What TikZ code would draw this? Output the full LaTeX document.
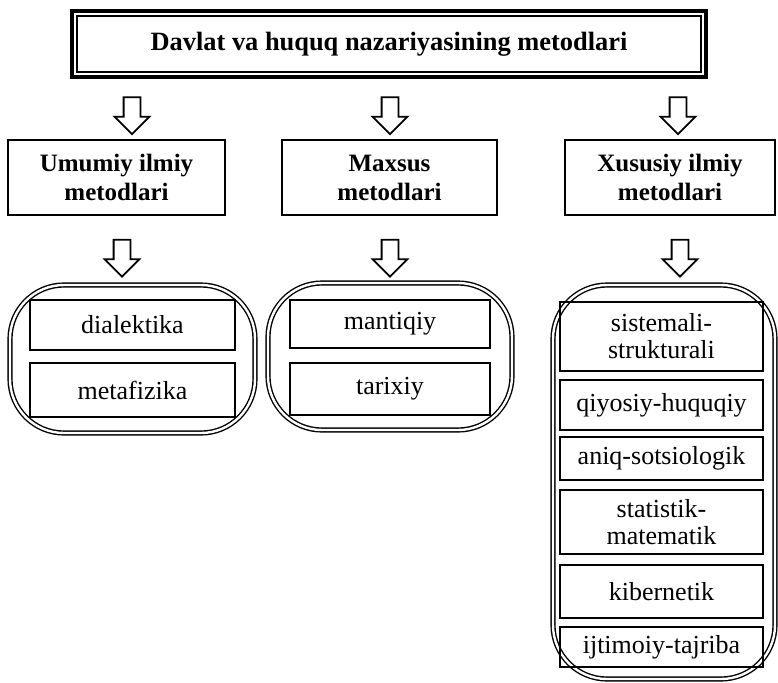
\documentclass[tikz,border=0pt]{standalone}
\usepackage{fontspec}
\setmainfont{Liberation Serif}
\usetikzlibrary{positioning,shapes.arrows}

\begin{document}
\begin{tikzpicture}[x=0.5pt,y=-0.5pt]
\tikzset{
     headbox/.style={draw, line width=1pt, align=center, inner sep=0pt,
                     font=\fontsize{12.5}{14.5}\selectfont\bfseries, minimum height=37.5pt},
     methodbox/.style={draw, line width=0.7pt, align=center, inner sep=0pt,
                     font=\fontsize{13}{13.5}\selectfont},
     groupbox/.style={draw, double, line width=0.7pt, double distance=1.2pt, rounded corners=27pt},
     downarrow/.style={draw, single arrow, shape border rotate=270, line width=0.9pt,
                     inner xsep=3.75pt, inner ysep=0pt, minimum height=18.5pt,
                     single arrow head extend=4.5pt}}

\useasboundingbox (0,0) rectangle (778,682);

% The title
\node (title) [draw, line width=2pt, minimum width=317pt, minimum height=33pt,
               font=\fontsize{13.2}{15}\selectfont\bfseries] at (389,44) {Davlat va huquq nazariyasining metodlari};
\draw [line width=0.7pt] ([shift={(3.5pt,-3.5pt)}]title.north west) rectangle ([shift={(-3.5pt,3.5pt)}]title.south east);

% The arrows
\node (arrowa) [downarrow] at (132,111.5) {};
\node (arrowb) [downarrow] at (390,111.5) {};
\node (arrowc) [downarrow] at (678,111.5) {};

% The kinds of methods
\node (umumiy)  [headbox, minimum width=108.5pt] at (116.5,177.5) {Umumiy ilmiy\\metodlari};
\node (maxsus)  [headbox, minimum width=107.5pt] at (389.5,177.5) {Maxsus\\metodlari};
\node (xususiy) [headbox, minimum width=105pt]   at (670,177.5)   {Xususiy ilmiy\\metodlari};

\node (arrowd) [downarrow] at (122,254) {};
\node (arrowe) [downarrow] at (390,254) {};
\node (arrowf) [downarrow] at (680,254) {};

% The groups
\node (umumiygroup)  [groupbox, minimum width=122.5pt, minimum height=74pt] at (132.5,359) {};
\node (maxsusgroup)  [groupbox, minimum width=122pt, minimum height=73.5pt] at (390,356.5) {};
\node (xususiygroup) [groupbox, minimum width=111pt, minimum height=197pt] at (664,482) {};

% The methods
\node (dialektika) [methodbox, minimum width=102.5pt, minimum height=25pt] at (132.5,325) {dialektika};
\node (metafizika) [methodbox, minimum width=102.5pt, minimum height=27pt] at (132.5,390) {metafizika};

\node (mantiqiy) [methodbox, minimum width=100pt, minimum height=24pt] at (390,324) {mantiqiy};
\node (tarixiy)  [methodbox, minimum width=100pt, minimum height=26pt] at (390,389) {tarixiy};

\node (sistemali)  [methodbox, minimum width=101.5pt, minimum height=34.5pt] at (661.5,336.5) {sistemali-\\strukturali};
\node (qiyosiy)    [methodbox, minimum width=101.5pt, minimum height=25pt]   at (661.5,405)   {qiyosiy-huquqiy};
\node (aniq)       [methodbox, minimum width=101.5pt, minimum height=21.5pt] at (661.5,458.5) {aniq-sotsiologik};
\node (statistik)  [methodbox, minimum width=101.5pt, minimum height=32pt]   at (661.5,522)   {statistik-\\matematik};
\node (kibernetik) [methodbox, minimum width=101.5pt, minimum height=26.5pt] at (661.5,591.5) {kibernetik};
\node (ijtimoiy)   [methodbox, minimum width=101.5pt, minimum height=20pt]   at (661.5,647)   {ijtimoiy-tajriba};
\end{tikzpicture}
\end{document}
